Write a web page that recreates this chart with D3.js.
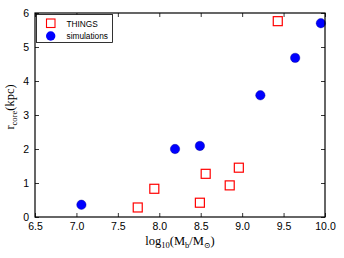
<!DOCTYPE html>
<html><head><meta charset="utf-8">
<script src="https://cdn.jsdelivr.net/npm/d3@7"></script>
<style>body{margin:0;background:#fff}svg{display:block}</style>
</head><body>
<script>
const thingsX = [7.74, 7.94, 8.49, 8.56, 8.85, 8.96, 9.43];
const thingsY = [0.28, 0.83, 0.42, 1.27, 0.93, 1.45, 5.76];
const simX = [7.06, 8.19, 8.49, 9.22, 9.64, 9.95];
const simY = [0.36, 2.00, 2.09, 3.58, 4.68, 5.70];
const xTicks = [6.5, 7.0, 7.5, 8.0, 8.5, 9.0, 9.5, 10.0];
const yTicks = [0, 1, 2, 3, 4, 5, 6];

const W = 344, H = 258;
const m = {l: 35, r: 19, t: 13, b: 41};
const svg = d3.select("body").append("svg").attr("width", W).attr("height", H);
const x = d3.scaleLinear().domain([6.5, 10]).range([m.l, W - m.r]);
const y = d3.scaleLinear().domain([0, 6]).range([H - m.b, m.t]);
const font = "'Liberation Sans', Arial, sans-serif";

const pw = W - m.r - m.l, ph = H - m.b - m.t;
const ax = [
  {a: d3.axisBottom(x).tickValues(xTicks).tickFormat(d3.format(".1f")), t: `translate(0,${H - m.b})`},
  {a: d3.axisTop(x).tickValues(xTicks).tickFormat(""), t: `translate(0,${m.t})`},
  {a: d3.axisLeft(y).tickValues(yTicks).tickFormat(d3.format("d")), t: `translate(${m.l},0)`},
  {a: d3.axisRight(y).tickValues(yTicks).tickFormat(""), t: `translate(${W - m.r},0)`}
];
ax.forEach((o) => {
  const g = svg.append("g").attr("transform", o.t).call(o.a.tickSizeInner(-4).tickSizeOuter(0).tickPadding(6));
  g.select(".domain").remove();
  g.selectAll(".tick line").attr("stroke", "#000").attr("stroke-width", 0.8);
  g.selectAll("text").attr("font-family", font).attr("font-size", 10.5).attr("fill", "#000");
});

svg.append("g").selectAll("rect").data(thingsX).join("rect")
  .attr("x", (d) => x(d) - 4.5).attr("y", (d, i) => y(thingsY[i]) - 4.5)
  .attr("width", 9).attr("height", 9).attr("fill", "#fff").attr("stroke", "#ff0000").attr("stroke-width", 1.2);
svg.append("g").selectAll("circle").data(simX).join("circle")
  .attr("cx", (d) => x(d)).attr("cy", (d, i) => y(simY[i])).attr("r", 4.7)
  .attr("fill", "#0000ff").attr("stroke", "#00008b").attr("stroke-width", 0.4);

svg.append("rect").attr("x", m.l).attr("y", m.t).attr("width", pw).attr("height", ph)
  .attr("fill", "none").attr("stroke", "#000").attr("stroke-width", 1.2);

const lg = svg.append("g");
lg.append("rect").attr("x", 36.5).attr("y", 14.5).attr("width", 76).attr("height", 28)
  .attr("fill", "#fff").attr("stroke", "#000").attr("stroke-width", 0.8);
lg.append("rect").attr("x", 46.5).attr("y", 19).attr("width", 8.5).attr("height", 8.5)
  .attr("fill", "#fff").attr("stroke", "#ff0000").attr("stroke-width", 1.1);
lg.append("circle").attr("cx", 50.7).attr("cy", 36).attr("r", 4.7).attr("fill", "#0000ff");
lg.append("text").attr("x", 66.5).attr("y", 26.5).text("THINGS")
  .attr("font-family", font).attr("font-size", 8.3);
lg.append("text").attr("x", 66.5).attr("y", 39.3).text("simulations")
  .attr("font-family", font).attr("font-size", 8.3);

const serif = "'Liberation Serif', 'DejaVu Serif', serif";
const xl = svg.append("text").attr("x", 180).attr("y", 245).attr("text-anchor", "middle")
  .attr("font-family", serif).attr("font-size", 12.5);
xl.append("tspan").text("log");
xl.append("tspan").text("10").attr("font-size", 8.5).attr("dy", 3);
xl.append("tspan").text("(M").attr("dy", -3);
xl.append("tspan").text("b").attr("font-size", 8.5).attr("dy", 3);
xl.append("tspan").text("/M").attr("dy", -3);
xl.append("tspan").text("⊙").attr("font-size", 8).attr("dy", 3);
xl.append("tspan").text(")").attr("dy", -3);

const yl = svg.append("text").attr("transform", "translate(14,107) rotate(-90)").attr("text-anchor", "middle")
  .attr("font-family", serif).attr("font-size", 12.5);
yl.append("tspan").text("r");
yl.append("tspan").text("core").attr("font-size", 8.5).attr("dy", 3);
yl.append("tspan").text("(kpc)").attr("dy", -3);
</script>
</body></html>
